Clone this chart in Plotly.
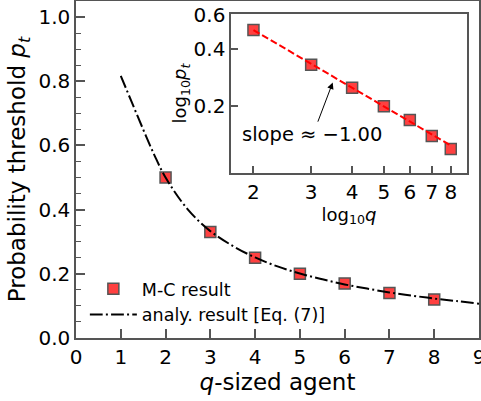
import math
import plotly.graph_objects as go

# ---- data ----
mc_q = [2, 3, 4, 5, 6, 7, 8]
mc_p = [0.50, 0.33, 0.25, 0.20, 0.17, 0.14, 0.12]

analy_q = [1.0, 1.25, 1.5, 1.75, 2.0, 2.5, 3.0, 3.5, 4.0, 4.5, 5.0, 5.5, 6.0, 6.5, 7.0, 7.5, 8.0, 8.5, 9.0]
analy_p = [0.817, 0.733, 0.650, 0.570, 0.500, 0.400, 0.333, 0.287, 0.251, 0.223, 0.201, 0.183,
           0.167, 0.154, 0.142, 0.132, 0.123, 0.115, 0.107]

fit_q = [2, 8]
fit_p = [0.50, 0.125]

x_ticks = [0, 1, 2, 3, 4, 5, 6, 7, 8, 9]
y_ticks = [0.0, 0.2, 0.4, 0.6, 0.8, 1.0]
y_ticktext = ["0.0", "0.2", "0.4", "0.6", "0.8", "1.0"]
inset_x_ticks = [2, 3, 4, 5, 6, 7, 8]
inset_y_ticks = [0.2, 0.4, 0.6]

FONT = "DejaVu Sans"
AX = "#555555"
MFILL = "rgba(255,30,30,0.85)"
TICK_SIZE = 20

fig = go.Figure()

fig.add_trace(go.Scatter(
    x=mc_q, y=mc_p, mode="markers", name="M-C result",
    marker=dict(symbol="square", size=11, color=MFILL, line=dict(color=AX, width=1.5)),
    xaxis="x", yaxis="y"))
fig.add_trace(go.Scatter(
    x=analy_q, y=analy_p, mode="lines", name="analy. result [Eq. (7)]",
    line=dict(color="black", width=2, dash="12.8px,3.2px,2px,3.2px", shape="spline"),
    xaxis="x", yaxis="y"))

# inset
fig.add_trace(go.Scatter(
    x=mc_q, y=mc_p, mode="markers", showlegend=False,
    marker=dict(symbol="square", size=11, color=MFILL, line=dict(color=AX, width=1.5)),
    xaxis="x2", yaxis="y2"))
fig.add_trace(go.Scatter(
    x=fit_q, y=fit_p, mode="lines", showlegend=False,
    line=dict(color="red", width=2, dash="7px,3px"),
    xaxis="x2", yaxis="y2"))

axis_common = dict(showline=True, mirror=True, linecolor=AX, linewidth=1.5,
                   ticks="inside", tickcolor=AX, tickwidth=1.5, showgrid=False,
                   zeroline=False, automargin=False, ticklabeloverflow="allow",
                   tickfont=dict(family=FONT, size=TICK_SIZE, color="black"))

fig.update_layout(
    width=481, height=401,
    margin=dict(l=76, r=2, t=1, b=63, autoexpand=False),
    paper_bgcolor="white", plot_bgcolor="white",
    font=dict(family=FONT, color="black"),
    xaxis=dict(range=[0, 9], tickvals=x_ticks, ticklen=9, domain=[0, 1],
               title=dict(text="<i>q</i>-sized agent", font=dict(family=FONT, size=23), standoff=6),
               **axis_common),
    yaxis=dict(range=[0, 1.05], tickvals=y_ticks, ticktext=y_ticktext, ticklen=9, domain=[0, 1],
               minor=dict(dtick=0.05, tick0=0, ticks="inside", ticklen=5.5, tickcolor=AX, tickwidth=1.2),
               title=dict(text="Probability threshold <i>p<sub>t</sub></i>", font=dict(family=FONT, size=23), standoff=6),
               **axis_common),
    xaxis2=dict(type="log", range=[math.log10(1.71), math.log10(8.96)], domain=[0.385, 0.970],
                anchor="y2", tickvals=inset_x_ticks, ticklen=7,
                title=dict(text="log<sub>10</sub><i>q</i>", font=dict(family=FONT, size=18), standoff=2),
                **axis_common),
    yaxis2=dict(type="log", range=[math.log10(0.09), math.log10(0.605)], domain=[0.490, 0.961],
                anchor="x2", tickvals=inset_y_ticks, ticktext=["0.2", "0.4", "0.6"], ticklen=7,
                title=dict(text="log<sub>10</sub><i>p<sub>t</sub></i>", font=dict(family=FONT, size=18), standoff=2),
                **axis_common),
    legend=dict(x=0.022, y=0.199, xanchor="left", yanchor="top", bgcolor="rgba(0,0,0,0)",
                font=dict(family=FONT, size=17.5), tracegroupgap=0, itemwidth=47),
    showlegend=True,
)

fig.add_annotation(x=0.586, y=0.605, xref="paper", yref="paper", text="slope \u2248 \u22121.00",
                   showarrow=False, font=dict(family=FONT, size=19.5, color="black"))
fig.add_annotation(x=0.637, y=0.758, xref="paper", yref="paper", text="",
                   showarrow=True, ax=-15.4, ay=40.6, axref="pixel", ayref="pixel",
                   arrowhead=2, arrowsize=1.3, arrowwidth=1, arrowcolor="black")

fig.write_html("out.html", config={"displayModeBar": False},
               post_script="document.body.style.margin='0px';document.body.style.overflow='hidden';")
